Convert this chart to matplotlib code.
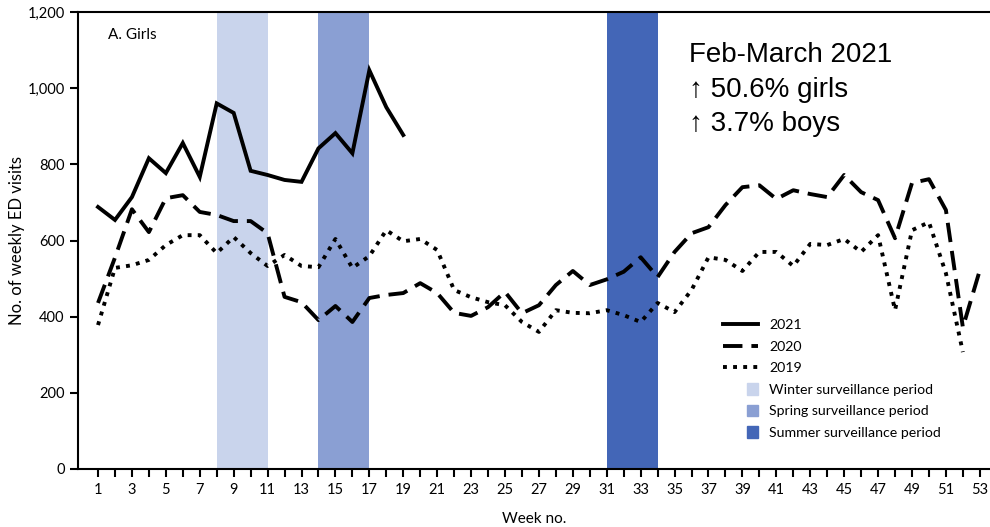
import matplotlib
matplotlib.use("Agg")
import matplotlib.pyplot as plt
import matplotlib.patches as mpatches
from matplotlib.lines import Line2D
from matplotlib.legend_handler import HandlerPatch

plt.rcParams['font.family'] = ['Lato', 'DejaVu Sans']

# weekly ED visits, girls
weeks_2021 = list(range(1, 20))
visits_2021 = [688, 654, 714, 816, 777, 856, 767, 960, 935, 783,
               772, 759, 754, 842, 882, 829, 1047, 950, 877]

weeks_2020 = list(range(1, 54))
visits_2020 = [436, 555, 682, 622, 711, 719, 675, 667, 651, 651,
               619, 452, 438, 391, 428, 386, 449, 457, 462, 488,
               462, 410, 402, 425, 465, 409, 430, 483, 520, 483,
               498, 518, 556, 504, 570, 619, 635, 693, 740, 745,
               709, 732, 722, 714, 772, 727, 706, 606, 751, 761,
               680, 372, 522]

weeks_2019 = list(range(1, 53))
visits_2019 = [378, 528, 535, 549, 588, 614, 614, 567, 609, 567,
               533, 562, 533, 530, 604, 528, 559, 627, 598, 604,
               575, 470, 451, 438, 430, 386, 360, 417, 410, 409,
               417, 404, 386, 436, 412, 470, 556, 549, 520, 570,
               570, 533, 591, 588, 604, 570, 614, 417, 627, 648,
               514, 307]

# surveillance periods (start week, end week)
periods = [("Winter surveillance period", 8, 11, "#c9d4ec"),
           ("Spring surveillance period", 14, 17, "#8a9fd3"),
           ("Summer surveillance period", 31, 34, "#4366b7")]

fig = plt.figure(figsize=(9.9, 5.27), dpi=100)
ax = fig.add_axes([78 / 990, 1 - 469 / 527, 912 / 990, 457 / 527])

for name, start, end, color in periods:
    ax.axvspan(start, end, color=color, lw=0, zorder=1)

ax.plot(weeks_2021, visits_2021, color="black", lw=2.8, zorder=3,
        solid_joinstyle="miter")
ax.plot(weeks_2020, visits_2020, color="black", lw=2.8, zorder=3,
        linestyle=(0, (5, 2.3)))
ax.plot(weeks_2019, visits_2019, color="black", lw=2.8, zorder=3,
        linestyle=(0, (1, 1.6)))

ax.set_xlim(-0.18, 53.6)
ax.set_ylim(0, 1200)
ax.set_xticks(range(1, 54))
ax.set_xticklabels([str(w) if w % 2 == 1 else "" for w in range(1, 54)])
ax.set_yticks(range(0, 1201, 200))
ax.set_yticklabels([f"{v:,}" for v in range(0, 1201, 200)])
ax.tick_params(axis="both", direction="out", length=6, width=1.5,
               labelsize=10.5, colors="black")
ax.tick_params(axis="x", pad=4)
ax.spines["right"].set_visible(False)
for side in ["left", "bottom", "top"]:
    ax.spines[side].set_linewidth(1.5)

ax.set_xlabel("Week no.", fontsize=11)
ax.xaxis.set_label_coords(0.5, -0.095)
ax.set_ylabel("No. of weekly ED visits", fontsize=12)
ax.yaxis.set_label_coords(-0.058, 0.5)

ax.text(0.033, 0.965, "A. Girls", transform=ax.transAxes, fontsize=11,
        va="top", ha="left")

ax.text(0.67, 0.934, "Feb-March 2021\n\u2191 50.6% girls\n\u2191 3.7% boys",
        transform=ax.transAxes, fontsize=20, va="top", ha="left",
        family=["Liberation Sans", "DejaVu Sans"], linespacing=1.42)


def square(legend, orig_handle, xdescent, ydescent, width, height, fontsize):
    s = height * 1.15
    return mpatches.Rectangle((-xdescent + width - s, -ydescent + (height - s) / 2),
                              s, s)


handles = [Line2D([], [], color="black", lw=2.8, label="2021"),
           Line2D([], [], color="black", lw=2.8, linestyle=(0, (5, 2.3)), label="2020"),
           Line2D([], [], color="black", lw=2.8, linestyle=(0, (1, 1.6)), label="2019")]
for name, start, end, color in periods:
    handles.append(mpatches.Patch(color=color, label=name))

ax.legend(handles=handles, loc="upper left", bbox_to_anchor=(0.6995, 0.343),
          frameon=False, fontsize=10.2, handlelength=2.5, handletextpad=0.75,
          labelspacing=0.67, borderpad=0,
          handler_map={mpatches.Patch: HandlerPatch(patch_func=square)})

fig.savefig("out.png", dpi=100)
